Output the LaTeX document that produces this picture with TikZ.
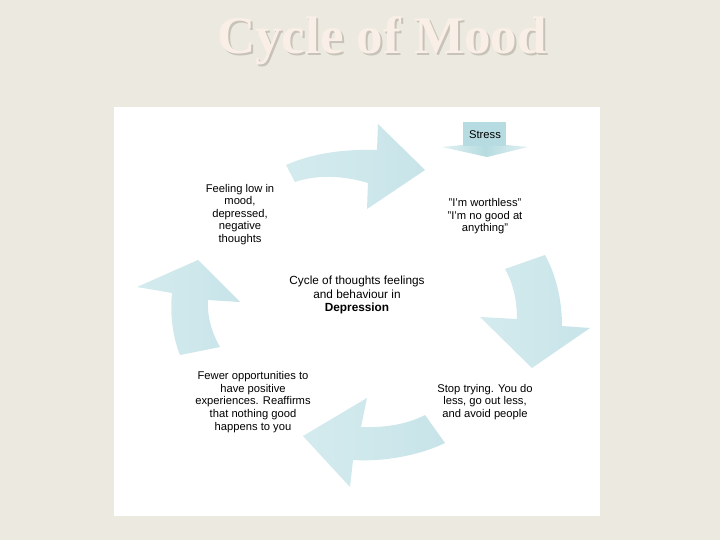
\documentclass[tikz,border=0pt]{standalone}
\usepackage{fontspec}
\setmainfont{Liberation Sans}
\newfontfamily\titlefont{Liberation Serif}
\definecolor{bgcol}{HTML}{ECE9E0}
\definecolor{titlecol}{HTML}{FAEFE7}
\definecolor{shadowcol}{HTML}{C7C3B8}
\definecolor{arrowcol}{HTML}{C8E4E9}
\definecolor{arrowlight}{HTML}{D4EBEE}
\definecolor{stresscol}{HTML}{B6DBE0}
\definecolor{stressedge}{HTML}{E2F1F3}
\newcommand{\shadowedtitle}[1]{\makebox[0pt][l]{\hspace{2pt}\raisebox{-2pt}{\textcolor{shadowcol}{#1}}}\textcolor{titlecol}{#1}}
\tikzset{
  blockarrow/.style={left color=arrowlight, right color=arrowcol, draw=none},
  cycletext/.style={align=center, text=black, inner sep=0pt,
    font=\fontsize{11.2}{12.6}\selectfont},
  titletext/.style={inner sep=0pt, font=\titlefont\bfseries\fontsize{53}{60}\selectfont}
}
\begin{document}
\begin{tikzpicture}[x=1pt,y=-1pt]
\useasboundingbox (0,0) rectangle (720,540);
\fill[bgcol] (0,0) rectangle (720,540);
% title
\node[titletext] (title) at (382,42) {\shadowedtitle{Cycle of Mood}};
% panel
\fill[white] (114,107) rectangle (600,516);
% top arrow (pointing right)
\path[blockarrow] (286,165) .. controls (313,153) and (345,149) .. (377,150)
  -- (378,124) -- (425,170) -- (367,209) -- (368,183)
  .. controls (345,176) and (318,174) .. (295,182) -- cycle;
% right arrow (pointing down)
\path[blockarrow] (545,255) .. controls (556,275) and (562,300) .. (562,326)
  -- (590,328) -- (532,368) -- (480,317) -- (517,319)
  .. controls (517,300) and (513,283) .. (505,269) -- cycle;
% bottom arrow (pointing left)
\path[blockarrow] (445,443) .. controls (420,455) and (385,462) .. (353,460)
  -- (350,487) -- (303,436) -- (367,398) -- (361,427)
  .. controls (385,428) and (408,424) .. (425,415) -- cycle;
% left arrow (pointing up)
\path[blockarrow] (180,355) .. controls (172,335) and (170,313) .. (172,293)
  -- (137,287) -- (198,260) -- (240,302) -- (208,300)
  .. controls (207,317) and (212,333) .. (220,347) -- cycle;
% stress arrow
\path[left color=stressedge, right color=stressedge, middle color=stresscol]
  (442,147) -- (463,145) -- (506,145) -- (528,147) -- (487,157) -- cycle;
\fill[stresscol] (463,122) rectangle (506,146);
\node[cycletext] (stress) at (485,134.5) {Stress};
% texts
\node[cycletext] (worthless) at (485,216.5) {"I'm worthless"\\"I'm no good at\\anything"};
\node[cycletext] (feeling) at (240,214.5) {Feeling low in\\mood,\\depressed,\\negative\\thoughts};
\node[cycletext, font=\fontsize{11.8}{13.2}\selectfont] (centre) at (357,295) {Cycle of thoughts feelings\\and behaviour in\\\textbf{Depression}};
\node[cycletext] (fewer) at (253,402) {Fewer opportunities to\\have positive\\experiences. Reaffirms\\that nothing good\\happens to you};
\node[cycletext] (stop) at (485,402) {Stop trying. You do\\less, go out less,\\and avoid people};
\end{tikzpicture}
\end{document}
